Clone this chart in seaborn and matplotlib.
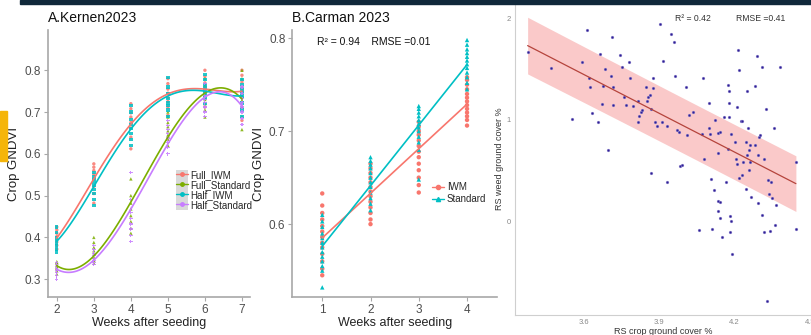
import matplotlib.pyplot as plt
import seaborn as sns
import pandas as pd
import numpy as np
from matplotlib.lines import Line2D
from matplotlib.patches import Patch, Rectangle

sns.set_theme(style='white')
plt.rcParams['font.family'] = ['Liberation Sans', 'DejaVu Sans']

## 데이터: A.Kernen2023 (주차별 GNDVI 측정값)
weeks_a = [2, 3, 4, 5, 6, 7]
groups_a = ['Full_IWM', 'Full_Standard', 'Half_IWM', 'Half_Standard']
full_iwm = [
    [0.372, 0.381, 0.389, 0.395, 0.402, 0.410, 0.418, 0.425],
    [0.482, 0.505, 0.522, 0.540, 0.551, 0.560, 0.568, 0.576],
    [0.612, 0.640, 0.662, 0.675, 0.688, 0.698, 0.708, 0.720],
    [0.692, 0.712, 0.725, 0.735, 0.745, 0.755, 0.768, 0.780],
    [0.712, 0.732, 0.745, 0.752, 0.760, 0.770, 0.785, 0.800],
    [0.680, 0.712, 0.735, 0.748, 0.760, 0.772, 0.788, 0.800],
]
full_std = [
    [0.312, 0.320, 0.326, 0.330, 0.334, 0.338, 0.340, 0.342],
    [0.338, 0.345, 0.352, 0.360, 0.368, 0.376, 0.388, 0.400],
    [0.410, 0.422, 0.438, 0.452, 0.468, 0.482, 0.500, 0.540],
    [0.620, 0.635, 0.645, 0.655, 0.665, 0.675, 0.688, 0.700],
    [0.688, 0.705, 0.720, 0.730, 0.740, 0.752, 0.765, 0.780],
    [0.658, 0.690, 0.712, 0.728, 0.740, 0.758, 0.780, 0.800],
]
half_iwm = [
    [0.365, 0.372, 0.380, 0.386, 0.392, 0.400, 0.412, 0.425],
    [0.476, 0.490, 0.505, 0.515, 0.525, 0.535, 0.545, 0.556],
    [0.620, 0.635, 0.648, 0.660, 0.670, 0.682, 0.700, 0.715],
    [0.690, 0.705, 0.715, 0.722, 0.732, 0.745, 0.760, 0.782],
    [0.720, 0.732, 0.740, 0.748, 0.755, 0.765, 0.778, 0.790],
    [0.690, 0.705, 0.722, 0.738, 0.748, 0.757, 0.766, 0.778],
]
half_std = [
    [0.300, 0.308, 0.315, 0.320, 0.326, 0.330, 0.335, 0.340],
    [0.335, 0.340, 0.345, 0.350, 0.356, 0.362, 0.370, 0.380],
    [0.390, 0.405, 0.420, 0.432, 0.445, 0.460, 0.490, 0.555],
    [0.600, 0.615, 0.628, 0.638, 0.648, 0.658, 0.668, 0.680],
    [0.690, 0.700, 0.712, 0.722, 0.730, 0.740, 0.752, 0.768],
    [0.670, 0.685, 0.700, 0.712, 0.722, 0.732, 0.745, 0.760],
]

## 데이터: B.Carman 2023
weeks_b = [1, 2, 3, 4]
groups_b = ['IWM', 'Standard']
iwm_b = [
    [0.545, 0.552, 0.560, 0.568, 0.575, 0.580, 0.586, 0.592, 0.598, 0.605, 0.612, 0.620, 0.633],
    [0.600, 0.605, 0.612, 0.618, 0.624, 0.630, 0.635, 0.640, 0.645, 0.650, 0.655, 0.660, 0.665],
    [0.634, 0.642, 0.650, 0.658, 0.665, 0.672, 0.678, 0.684, 0.690, 0.696, 0.700, 0.705, 0.710],
    [0.706, 0.712, 0.716, 0.720, 0.724, 0.728, 0.732, 0.736, 0.740, 0.745, 0.750, 0.755, 0.758],
]
std_b = [
    [0.532, 0.550, 0.555, 0.560, 0.565, 0.570, 0.575, 0.580, 0.585, 0.590, 0.597, 0.603, 0.610],
    [0.615, 0.622, 0.628, 0.634, 0.640, 0.645, 0.650, 0.655, 0.660, 0.664, 0.668, 0.672],
    [0.648, 0.680, 0.688, 0.694, 0.700, 0.704, 0.708, 0.712, 0.716, 0.720, 0.724, 0.727],
    [0.745, 0.752, 0.758, 0.763, 0.768, 0.772, 0.776, 0.780, 0.784, 0.788, 0.793, 0.798],
]

## 데이터: 작물 피복도 vs 잡초 피복도
crop_cover = [3.377, 3.469, 3.555, 3.592, 3.613, 3.621, 3.624, 3.634, 3.656, 3.663, 3.672, 3.676,
              3.685, 3.697, 3.709, 3.711, 3.715, 3.717, 3.743, 3.751, 3.759, 3.769, 3.782, 3.786,
              3.798, 3.814, 3.815, 3.819, 3.827, 3.833, 3.849, 3.853, 3.855, 3.862, 3.866, 3.869,
              3.876, 3.876, 3.883, 3.893, 3.904, 3.911, 3.916, 3.931, 3.933, 3.946, 3.960, 3.963,
              3.972, 3.980, 3.984, 3.989, 4.007, 4.010, 4.018, 4.036, 4.057, 4.072, 4.076, 4.077,
              4.097, 4.099, 4.102, 4.107, 4.111, 4.118, 4.123, 4.133, 4.136, 4.136, 4.142, 4.136,
              4.142, 4.141, 4.151, 4.158, 4.167, 4.173, 4.175, 4.179, 4.179, 4.179, 4.180, 4.184,
              4.183, 4.185, 4.189, 4.203, 4.205, 4.208, 4.209, 4.212, 4.216, 4.217, 4.224, 4.228,
              4.229, 4.234, 4.244, 4.246, 4.251, 4.251, 4.254, 4.256, 4.258, 4.260, 4.261, 4.264,
              4.280, 4.282, 4.290, 4.292, 4.293, 4.297, 4.302, 4.310, 4.310, 4.318, 4.319, 4.327,
              4.330, 4.333, 4.338, 4.343, 4.341, 4.350, 4.357, 4.360, 4.366, 4.381, 4.444, 4.444]
weed_cover = [1.663, 1.515, 1.007, 1.568, 1.884, 1.413, 1.320, 1.063, 0.977, 1.644, 1.158, 1.330,
              1.505, 0.703, 1.429, 1.815, 1.320, 1.142, 1.637, 1.521, 1.224, 1.142, 1.571, 1.409,
              1.132, 1.181, 0.974, 1.036, 1.076, 1.092, 1.327, 1.181, 1.221, 1.241, 0.472, 1.109,
              1.413, 1.317, 0.980, 0.937, 1.944, 0.980, 1.581, 0.937, 0.393, 1.845, 1.762, 1.432,
              0.901, 0.884, 0.548, 0.558, 1.327, 0.855, 1.043, 1.079, -0.083, 0.865, 1.409, 0.611,
              0.924, 1.162, 0.865, 0.422, -0.079, 0.307, 0.997, 0.875, 0.677, 0.201, 0.881, 0.106,
              0.195, 0.033, -0.152, 1.026, 0.389, 1.340, 0.710, 1.281, 1.026, 1.165, 0.053, 0.007,
              -0.106, 0.861, -0.317, 0.782, 0.614, 0.568, 1.122, 1.686, 1.488, 0.429, 0.990, 0.459,
              0.987, 0.588, 0.785, 0.317, 1.287, 0.653, 0.924, 0.508, 0.703, 0.756, 0.584, 0.244,
              0.756, 1.337, 1.630, 0.657, 0.181, 0.828, 0.851, 1.518, 0.066, 0.611, -0.106, 1.109,
              -0.785, 0.409, 0.274, 0.393, -0.096, 0.234, 0.921, -0.033, 0.158, 1.525, 0.588, -0.079]

palette_a = dict(zip(groups_a, ['#F8766D', '#7CAE00', '#00BFC4', '#C77CFF']))
markers_a = dict(zip(groups_a, ['o', '^', 's', 'P']))
palette_b = dict(zip(groups_b, ['#F8766D', '#00BFC4']))
markers_b = dict(zip(groups_b, ['o', '^']))

## 긴 형식 데이터프레임 생성
rows = []
for g, vals in zip(groups_a, [full_iwm, full_std, half_iwm, half_std]):
    for w, col in zip(weeks_a, vals):
        rows += [(g, w, v) for v in col]
df_a = pd.DataFrame(rows, columns=['Group', 'Week', 'GNDVI'])

rows = []
for g, vals in zip(groups_b, [iwm_b, std_b]):
    for w, col in zip(weeks_b, vals):
        rows += [(g, w, v) for v in col]
df_b = pd.DataFrame(rows, columns=['Group', 'Week', 'GNDVI'])

df_c = pd.DataFrame({'crop': crop_cover, 'weed': weed_cover})

fig = plt.figure(figsize=(8.12, 3.35), dpi=100)
spine_col = '#a8a8a8'
tick_col = '#4d4d4d'

def style_axis(ax):
    for s in ['top', 'right']:
        ax.spines[s].set_visible(False)
    for s in ['left', 'bottom']:
        ax.spines[s].set_color(spine_col)
        ax.spines[s].set_linewidth(1.2)
    ax.tick_params(axis='both', length=3, width=0.8, color=spine_col,
                   labelcolor=tick_col, labelsize=8.5, pad=2, bottom=True, left=True)

## A.Kernen2023
ax1 = fig.add_axes([0.059, 0.113, 0.249, 0.797])
sns.scatterplot(data=df_a, x='Week', y='GNDVI', hue='Group', style='Group',
                palette=palette_a, markers=markers_a, s=6, linewidth=0,
                alpha=0.85, legend=False, ax=ax1)
for g in groups_a:
    sns.regplot(data=df_a[df_a['Group'] == g], x='Week', y='GNDVI', order=4,
                scatter=False, ci=None, color=palette_a[g],
                line_kws={'linewidth': 1.2}, ax=ax1)
ax1.set_xlim(1.76, 7.22)
ax1.set_ylim(0.257, 0.896)
ax1.set_xticks(weeks_a)
ax1.set_yticks([0.3, 0.4, 0.5, 0.6, 0.7, 0.8])
ax1.set_xlabel('Weeks after seeding', fontsize=9, color='#222222', labelpad=1)
ax1.set_ylabel('Crop GNDVI', fontsize=9.5, color='#222222', labelpad=3)
ax1.set_title('A.Kernen2023', fontsize=10, loc='left', x=0.0, pad=6, color='#111111')
style_axis(ax1)

handles = [(Patch(facecolor='#d9d9d9', edgecolor='none'),
            Line2D([], [], color=palette_a[g], marker='o', markersize=2.5, linewidth=1))
           for g in groups_a]
ax1.legend(handles, groups_a, loc='center left', bbox_to_anchor=(0.61, 0.40),
           frameon=False, fontsize=7, handlelength=1.2, handleheight=1.1,
           labelspacing=0.0, handletextpad=0.3, borderpad=0)

## B.Carman 2023
ax2 = fig.add_axes([0.360, 0.113, 0.252, 0.797])
sns.scatterplot(data=df_b, x='Week', y='GNDVI', hue='Group', style='Group',
                palette=palette_b, markers=markers_b, s=10, linewidth=0,
                legend=False, ax=ax2)
for g in groups_b:
    sns.regplot(data=df_b[df_b['Group'] == g], x='Week', y='GNDVI',
                scatter=False, ci=None, color=palette_b[g],
                line_kws={'linewidth': 1.2}, ax=ax2)
ax2.set_xlim(0.38, 4.62)
ax2.set_ylim(0.5215, 0.8086)
ax2.set_xticks(weeks_b)
ax2.set_yticks([0.6, 0.7, 0.8])
ax2.set_xlabel('Weeks after seeding', fontsize=9, color='#222222', labelpad=1)
ax2.set_ylabel('Crop GNDVI', fontsize=9.5, color='#222222', labelpad=3)
ax2.set_title('B.Carman 2023', fontsize=10, loc='left', x=0.0, pad=6, color='#111111')
ax2.text(0.12, 0.975, 'R² = 0.94    RMSE =0.01', transform=ax2.transAxes,
         fontsize=7.5, va='top', ha='left', color='#111111')
style_axis(ax2)
handles = [Line2D([], [], color=palette_b[g], marker=markers_b[g], markersize=3, linewidth=1)
           for g in groups_b]
ax2.legend(handles, groups_b, loc='center left', bbox_to_anchor=(0.66, 0.39),
           frameon=False, fontsize=7, handlelength=1.2, labelspacing=0.2,
           handletextpad=0.3, borderpad=0)

## 피복도 산점도 + 회귀선
ax3 = fig.add_axes([0.634, 0.060, 0.366, 0.931])
slope, intercept = np.polyfit(df_c['crop'], df_c['weed'], 1)
xs = np.linspace(df_c['crop'].min(), df_c['crop'].max(), 100)
fit = intercept + slope * xs
resid = df_c['weed'] - (intercept + slope * df_c['crop'])
s_err = np.sqrt((resid ** 2).sum() / (len(df_c) - 2))
xm = df_c['crop'].mean()
sxx = ((df_c['crop'] - xm) ** 2).sum()
half = 0.6 * s_err * np.sqrt(1 + 1 / len(df_c) + (xs - xm) ** 2 / sxx)
ax3.fill_between(xs, fit - half, fit + half, color='#f7a6a6', alpha=0.6, linewidth=0)
sns.regplot(data=df_c, x='crop', y='weed', scatter=False, ci=None, color='#b5443c',
            line_kws={'linewidth': 0.9}, ax=ax3)
sns.scatterplot(data=df_c, x='crop', y='weed', color='#2f1f95', s=4, linewidth=0.3,
                edgecolor='#9a93d6', ax=ax3)
ax3.set_xlim(3.326, 4.508)
ax3.set_ylim(-0.92, 2.15)
ax3.set_xticks([3.6, 3.9, 4.2, 4.5])
ax3.set_yticks([0, 1, 2])
ax3.set_xlabel('RS crop ground cover %', fontsize=6.5, color='#333333', labelpad=1)
ax3.set_ylabel('RS weed ground cover %', fontsize=6.5, color='#333333', labelpad=2)
ax3.text(0.54, 0.965, 'R² = 0.42', transform=ax3.transAxes, fontsize=6.2, va='top', color='#333333')
ax3.text(0.745, 0.965, 'RMSE =0.41', transform=ax3.transAxes, fontsize=6.2, va='top', color='#333333')
for s in ['top', 'right']:
    ax3.spines[s].set_visible(False)
for s in ['left', 'bottom']:
    ax3.spines[s].set_color('#cfcfcf')
    ax3.spines[s].set_linewidth(0.8)
ax3.tick_params(axis='both', length=0, labelcolor='#888888', labelsize=5.5, pad=3)

## 상단 바 및 좌측 탭 장식
fig.patches.append(Rectangle((0.025, 0.987), 0.975, 0.013, transform=fig.transFigure,
                             color='#10283a', zorder=5))
fig.patches.append(Rectangle((0.0, 0.52), 0.009, 0.15, transform=fig.transFigure,
                             color='#f5b50a', zorder=5))

plt.savefig('out.png', dpi=100)
